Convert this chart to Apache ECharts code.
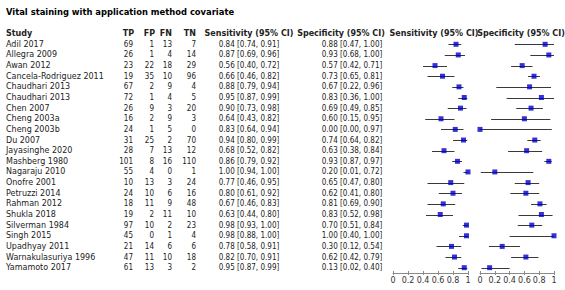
<!DOCTYPE html>
<html>
<head>
<meta charset="utf-8">
<script src="https://cdn.jsdelivr.net/npm/echarts@6/dist/echarts.min.js"></script>
<style>
html,body{margin:0;padding:0;background:#fff;}
#chart{width:565px;height:290px;}
</style>
</head>
<body>
<div id="chart"></div>
<script>
var studies = ["Adil 2017","Allegra 2009","Awan 2012","Cancela-Rodriguez 2011","Chaudhari 2013","Chaudhari 2013","Chen 2007","Cheng 2003a","Cheng 2003b","Du 2007","Jayasinghe 2020","Mashberg 1980","Nagaraju 2010","Onofre 2001","Petruzzi 2014","Rahman 2012","Shukla 2018","Silverman 1984","Singh 2015","Upadhyay 2011","Warnakulasuriya 1996","Yamamoto 2017"];
var TP = [69,26,23,19,67,72,26,16,24,31,28,101,55,10,24,18,19,97,45,21,47,61];
var FP = [1,1,22,35,2,1,9,2,1,25,7,8,4,13,10,11,2,10,0,14,11,13];
var FN = [13,4,18,10,9,4,3,9,5,2,13,16,0,3,6,9,11,2,1,6,10,3];
var TN = [7,14,29,96,4,5,20,3,0,70,12,110,1,24,16,48,10,23,4,6,18,2];
var sens   = [0.84,0.87,0.56,0.66,0.88,0.95,0.90,0.64,0.83,0.94,0.68,0.86,1.00,0.77,0.80,0.67,0.63,0.98,0.98,0.78,0.82,0.95];
var sensLo = [0.74,0.69,0.40,0.46,0.79,0.87,0.73,0.43,0.64,0.80,0.52,0.79,0.94,0.46,0.61,0.46,0.44,0.93,0.88,0.58,0.70,0.87];
var sensHi = [0.91,0.96,0.72,0.82,0.94,0.99,0.98,0.82,0.94,0.99,0.82,0.92,1.00,0.95,0.92,0.83,0.80,1.00,1.00,0.91,0.91,0.99];
var spec   = [0.88,0.93,0.57,0.73,0.67,0.83,0.69,0.60,0.00,0.74,0.63,0.93,0.20,0.65,0.62,0.81,0.83,0.70,1.00,0.30,0.62,0.13];
var specLo = [0.47,0.68,0.42,0.65,0.22,0.36,0.49,0.15,0.00,0.64,0.38,0.87,0.01,0.47,0.41,0.69,0.52,0.51,0.40,0.12,0.42,0.02];
var specHi = [1.00,1.00,0.71,0.81,0.96,1.00,0.85,0.95,0.97,0.82,0.84,0.97,0.72,0.80,0.80,0.90,0.98,0.84,1.00,0.54,0.79,0.40];
var tickValues = [0,0.2,0.4,0.6,0.8,1];

var titleText = "Vital staining with application method covariate";
var headers = {study:"Study", tp:"TP", fp:"FP", fn:"FN", tn:"TN", sens:"Sensitivity (95% CI)", spec:"Specificity (95% CI)"};

function ci(v, lo, hi){ return v.toFixed(2) + " [" + lo.toFixed(2) + ", " + hi.toFixed(2) + "]"; }
var sensStr = sens.map(function(v,i){ return ci(v, sensLo[i], sensHi[i]); });
var specStr = spec.map(function(v,i){ return ci(v, specLo[i], specHi[i]); });
var idx = studies.map(function(s,i){ return i; });

var FONT = "DejaVu Sans";
var NUMFONT = "DejaVu Sans Condensed";
var TXT = "#222";
var G0L = 393, G0W = 75, G1L = 480, G1W = 74, GT = 39, GH = 234;

function hiddenCat(grid){
  return {type:'category', gridIndex:grid, data:idx, inverse:true,
    axisLine:{show:false}, axisTick:{show:false}, axisLabel:{show:false}, splitLine:{show:false}};
}
function tableAxis(data, edgeX, align, font){
  return {type:'category', gridIndex:0, data:data, inverse:true, position:'left', offset:G0L-edgeX,
    axisLine:{show:false}, axisTick:{show:false}, splitLine:{show:false},
    axisLabel:{show:true, interval:0, margin:0, align:align, color:TXT, fontFamily:font, fontSize:8,
      formatter:function(v){return String(v);} }};
}
function valAxis(grid, labels, inside){
  return {type:'value', gridIndex:grid, min:0, max:1, interval:0.2, position:'bottom',
    axisLine:{show:labels, lineStyle:{color:'#8a8a8a', width:1}},
    axisTick:{show:true, inside:inside, length:2, lineStyle:{color:'#8a8a8a'}},
    axisLabel:{show:labels, margin:3, color:'#333', fontFamily:FONT, fontSize:8,
      formatter:function(v){ return tickValues.indexOf(+v.toFixed(1))>=0 ? String(+v.toFixed(1)) : ''; }},
    splitLine:{show:false}};
}
function ciSeries(xi, yi, lo, hi){
  return {type:'custom', xAxisIndex:xi, yAxisIndex:yi, silent:true, z:1,
    data: lo.map(function(l,i){ return [l, hi[i], i]; }),
    renderItem:function(params, api){
      var a = api.coord([api.value(0), api.value(2)]);
      var b = api.coord([api.value(1), api.value(2)]);
      var y = Math.round(a[1]) + 0.5;
      return {type:'line', shape:{x1:a[0], y1:y, x2:b[0], y2:y}, style:{stroke:'#3a3a3a', lineWidth:1}};
    }};
}
function ptSeries(xi, yi, vals){
  return {type:'scatter', xAxisIndex:xi, yAxisIndex:yi, silent:true, z:3, symbol:'rect', symbolSize:5,
    itemStyle:{color:'#0000c8'}, data: vals.map(function(v,i){ return [v, i]; })};
}

var chart = echarts.init(document.getElementById('chart'), null, {renderer:'svg'});
var hdrY = 33;
function hdr(text, x, align){
  return {type:'text', x:x, y:hdrY, style:{text:text, fill:TXT, font:'bold 8px "'+FONT+'"', textAlign:align, textVerticalAlign:'middle'}};
}
chart.setOption({
  animation:false,
  backgroundColor:'#fff',
  title:{text:titleText, left:6, top:8, padding:0, textStyle:{fontFamily:FONT, fontSize:8.4, fontWeight:'bold', color:'#000'}},
  grid:[
    {left:G0L, width:G0W, top:GT, height:GH},
    {left:G1L, width:G1W, top:GT, height:GH}
  ],
  xAxis:[ valAxis(0,true,false), valAxis(1,true,false), valAxis(0,false,true), valAxis(1,false,true) ],
  yAxis:[
    hiddenCat(0), hiddenCat(1),
    tableAxis(studies, 6, 'left', FONT),
    tableAxis(TP, 133, 'right', NUMFONT),
    tableAxis(FP, 154, 'right', NUMFONT),
    tableAxis(FN, 172, 'right', NUMFONT),
    tableAxis(TN, 196, 'right', NUMFONT),
    tableAxis(sensStr, 249, 'center', NUMFONT),
    tableAxis(specStr, 352, 'center', NUMFONT)
  ],
  graphic:[
    hdr(headers.study, 6, 'left'),
    hdr(headers.tp, 134, 'right'),
    hdr(headers.fp, 155, 'right'),
    hdr(headers.fn, 172, 'right'),
    hdr(headers.tn, 196, 'right'),
    hdr(headers.sens, 249, 'center'),
    hdr(headers.spec, 341, 'center'),
    hdr(headers.sens, 434, 'center'),
    hdr(headers.spec, 521, 'center')
  ],
  series:[
    ciSeries(0,0,sensLo,sensHi), ptSeries(0,0,sens),
    ciSeries(1,1,specLo,specHi), ptSeries(1,1,spec)
  ]
});
</script>
</body>
</html>
